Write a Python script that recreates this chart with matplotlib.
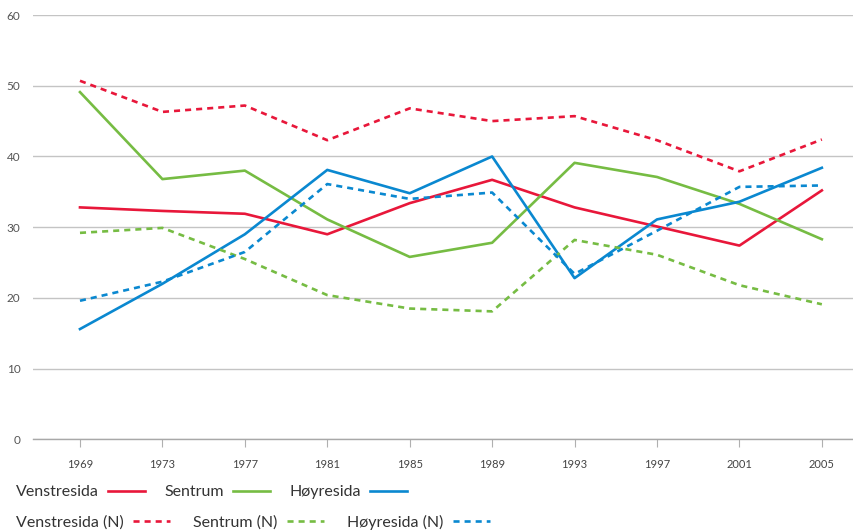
import matplotlib
matplotlib.use("Agg")
import matplotlib.pyplot as plt

years = ["1969", "1973", "1977", "1981", "1985", "1989", "1993", "1997", "2001", "2005"]
venstre = [32.8, 32.3, 31.9, 29.0, 33.4, 36.7, 32.8, 30.1, 27.4, 35.2]
sentrum = [49.1, 36.8, 38.0, 31.1, 25.8, 27.8, 39.1, 37.1, 33.3, 28.3]
hoyre = [15.6, 22.0, 29.0, 38.1, 34.8, 40.0, 22.8, 31.1, 33.6, 38.4]
venstre_n = [50.7, 46.3, 47.2, 42.3, 46.8, 45.0, 45.7, 42.3, 37.9, 42.4]
sentrum_n = [29.2, 29.9, 25.5, 20.4, 18.5, 18.1, 28.2, 26.1, 21.8, 19.1]
hoyre_n = [19.6, 22.3, 26.5, 36.1, 34.0, 34.9, 23.4, 29.5, 35.7, 35.9]
yticks = [0, 10, 20, 30, 40, 50, 60]

RED = "#e8173a"
GREEN = "#76bc43"
BLUE = "#0a88d0"

plt.rcParams['font.family'] = ['Lato', 'DejaVu Sans']

fig = plt.figure(figsize=(8.54, 5.30), dpi=100)
ax = fig.add_axes([33/854, 1 - 439.4/530, 1 - 33/854, (439.4 - 15)/530])

x = list(range(len(years)))
lw = 1.9
dash = (2.3, 1.9)
l1, = ax.plot(x, venstre, color=RED, lw=lw, label="Venstresida")
l2, = ax.plot(x, sentrum, color=GREEN, lw=lw, label="Sentrum")
l3, = ax.plot(x, hoyre, color=BLUE, lw=lw, label="Høyresida")
l4, = ax.plot(x, venstre_n, color=RED, lw=lw, dashes=dash, label="Venstresida (N)")
l5, = ax.plot(x, sentrum_n, color=GREEN, lw=lw, dashes=dash, label="Sentrum (N)")
l6, = ax.plot(x, hoyre_n, color=BLUE, lw=lw, dashes=dash, label="Høyresida (N)")

ax.set_xlim(-0.57, 9.39)
ax.set_ylim(0, 60)
ax.set_yticks(yticks)
ax.set_xticks(x)
ax.set_xticklabels(years)
ax.grid(axis='y', color="#c4c4c4", lw=1.0)
ax.set_axisbelow(True)
for s in ["top", "right", "left"]:
    ax.spines[s].set_visible(False)
ax.spines["bottom"].set_color("#a8a8a8")
ax.spines["bottom"].set_linewidth(1.0)
ax.tick_params(axis='y', length=0, pad=9, labelsize=8.5, labelcolor="#555555")
ax.tick_params(axis='x', length=6, width=0.8, color="#b0b0b0", pad=8, labelsize=8, labelcolor="#444444")

common = dict(loc="upper left", frameon=False, markerfirst=False, fontsize=11.5,
              handlelength=2.3, handletextpad=0.6, borderaxespad=0, borderpad=0, ncol=3)
leg1 = fig.legend(handles=[l1, l2, l3], bbox_to_anchor=(16/854, 1 - 485/530),
                  columnspacing=1.2, **common)
leg2 = fig.legend(handles=[l4, l5, l6], bbox_to_anchor=(16/854, 1 - 515/530),
                  columnspacing=1.45, **common)
for leg in (leg1, leg2):
    for t in leg.get_texts():
        t.set_color("#333333")

fig.savefig("out.png", dpi=100)
